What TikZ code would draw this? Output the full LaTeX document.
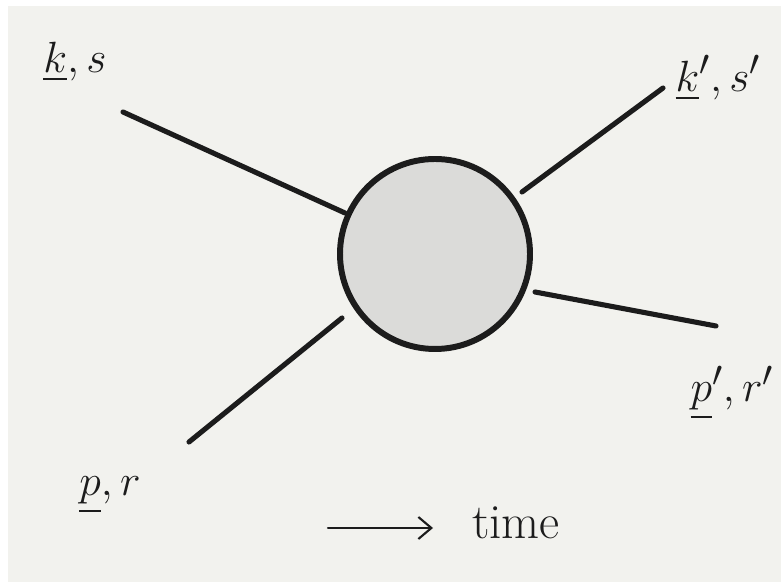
\documentclass[tikz,border=0pt]{standalone}
\definecolor{paper}{RGB}{242,242,238}
\definecolor{ink}{RGB}{28,28,28}
\definecolor{blobfill}{RGB}{219,219,217}
\usepackage{amsmath,amssymb}
\usetikzlibrary{arrows.meta,positioning,calc}
\tikzset{
  leg/.style={draw=ink, line width=2.9pt, line cap=round},
  blob/.style={circle, draw=ink, line width=3.4pt, fill=blobfill,
              minimum size=3.8cm, inner sep=0pt},
  lab/.style={text=ink, font=\fontsize{28}{34}\selectfont, inner sep=1pt},
  flow/.style={-{Straight Barb[length=2.6mm,width=4.4mm]}, ink, line width=1.2pt, line cap=round},
}
\begin{document}
\begin{tikzpicture}
    \useasboundingbox (0,0) rectangle (15.62,11.64);
    \fill[white] (0,0) rectangle (15.62,11.64);
    \fill[paper] (0.16,0) rectangle (15.62,11.52);
    % --- the blob ---
    \node[blob] (vert) at (8.70,6.56) {};
    % --- incoming and outgoing legs ---
    \coordinate (kin)  at (2.46,9.40);
    \coordinate (kend) at (6.90,7.38);
    \coordinate (kout) at (13.26,9.88);
    \coordinate (kbeg) at (10.44,7.80);
    \coordinate (pout) at (14.32,5.12);
    \coordinate (pbeg) at (10.70,5.80);
    \coordinate (pin)  at (3.78,2.80);
    \coordinate (pend) at (6.84,5.28);
    \draw[leg] (kin) -- (kend);
    \draw[leg] (kbeg) -- (kout);
    \draw[leg] (pbeg) -- (pout);
    \draw[leg] (pin) -- (pend);
    % --- momenta and spins ---
    \node[lab] (ks)  at (1.50,10.40) {$\underline{k},s$};
    \node[lab] (kps) at (14.36,10.08) {$\underline{k}',s'$};
    \node[lab] (ppr) at (14.64,3.78) {$\underline{p}',r'$};
    \node[lab] (pr)  at (2.20,1.74) {$\underline{p},r$};
    % --- time direction ---
    \coordinate (tail) at (6.56,1.08);
    \coordinate (tip)  at (8.66,1.08);
    \draw[flow] (tail) -- (tip);
    \node[lab,anchor=base west] (time) at (9.40,0.86) {time};
\end{tikzpicture}
\end{document}
